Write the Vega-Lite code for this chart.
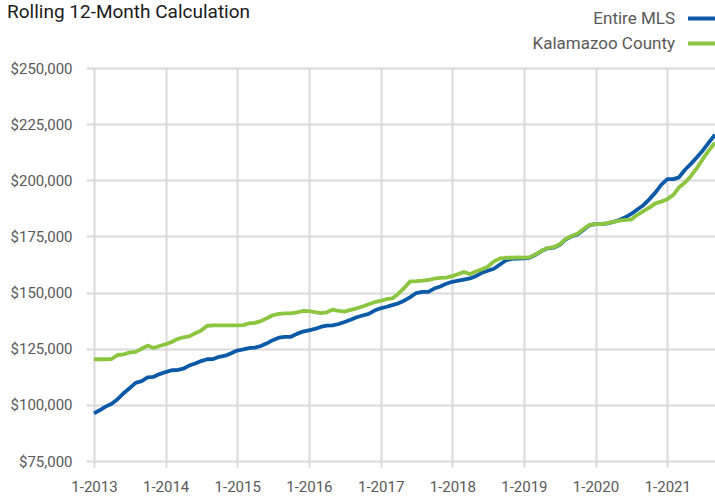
{
  "$schema": "https://vega.github.io/schema/vega-lite/v6.json",
  "width": 621,
  "height": 393,
  "autosize": "none",
  "padding": {"left": 94, "top": 68, "right": 0, "bottom": 35},
  "background": "white",
  "title": {
    "text": "Rolling 12-Month Calculation",
    "anchor": "start",
    "frame": "group",
    "font": "Roboto",
    "fontSize": 19,
    "fontWeight": "normal",
    "color": "#1a1a1a",
    "dx": -87,
    "offset": 0,
    "dy": 20
  },
  "config": {"view": {"stroke": null}},
  "datasets": {
    "rows": [
      {"month": "2013-01-01", "Entire MLS": 96200, "Kalamazoo County": 120300},
      {"month": "2013-02-01", "Entire MLS": 97700, "Kalamazoo County": 120300},
      {"month": "2013-03-01", "Entire MLS": 99200, "Kalamazoo County": 120300},
      {"month": "2013-04-01", "Entire MLS": 100500, "Kalamazoo County": 120400},
      {"month": "2013-05-01", "Entire MLS": 102500, "Kalamazoo County": 122200},
      {"month": "2013-06-01", "Entire MLS": 105200, "Kalamazoo County": 122500},
      {"month": "2013-07-01", "Entire MLS": 107400, "Kalamazoo County": 123300},
      {"month": "2013-08-01", "Entire MLS": 109800, "Kalamazoo County": 123600},
      {"month": "2013-09-01", "Entire MLS": 110600, "Kalamazoo County": 125000},
      {"month": "2013-10-01", "Entire MLS": 112200, "Kalamazoo County": 126400},
      {"month": "2013-11-01", "Entire MLS": 112500, "Kalamazoo County": 125300},
      {"month": "2013-12-01", "Entire MLS": 113700, "Kalamazoo County": 126200},
      {"month": "2014-01-01", "Entire MLS": 114600, "Kalamazoo County": 127000},
      {"month": "2014-02-01", "Entire MLS": 115400, "Kalamazoo County": 128000},
      {"month": "2014-03-01", "Entire MLS": 115500, "Kalamazoo County": 129300},
      {"month": "2014-04-01", "Entire MLS": 116100, "Kalamazoo County": 130100},
      {"month": "2014-05-01", "Entire MLS": 117500, "Kalamazoo County": 130500},
      {"month": "2014-06-01", "Entire MLS": 118400, "Kalamazoo County": 131900},
      {"month": "2014-07-01", "Entire MLS": 119500, "Kalamazoo County": 133100},
      {"month": "2014-08-01", "Entire MLS": 120300, "Kalamazoo County": 135200},
      {"month": "2014-09-01", "Entire MLS": 120400, "Kalamazoo County": 135400},
      {"month": "2014-10-01", "Entire MLS": 121400, "Kalamazoo County": 135400},
      {"month": "2014-11-01", "Entire MLS": 121900, "Kalamazoo County": 135400},
      {"month": "2014-12-01", "Entire MLS": 123000, "Kalamazoo County": 135400},
      {"month": "2015-01-01", "Entire MLS": 124200, "Kalamazoo County": 135400},
      {"month": "2015-02-01", "Entire MLS": 124700, "Kalamazoo County": 135500},
      {"month": "2015-03-01", "Entire MLS": 125300, "Kalamazoo County": 136300},
      {"month": "2015-04-01", "Entire MLS": 125500, "Kalamazoo County": 136500},
      {"month": "2015-05-01", "Entire MLS": 126200, "Kalamazoo County": 137300},
      {"month": "2015-06-01", "Entire MLS": 127400, "Kalamazoo County": 138600},
      {"month": "2015-07-01", "Entire MLS": 128800, "Kalamazoo County": 139900},
      {"month": "2015-08-01", "Entire MLS": 129900, "Kalamazoo County": 140500},
      {"month": "2015-09-01", "Entire MLS": 130300, "Kalamazoo County": 140700},
      {"month": "2015-10-01", "Entire MLS": 130300, "Kalamazoo County": 140700},
      {"month": "2015-11-01", "Entire MLS": 131600, "Kalamazoo County": 141200},
      {"month": "2015-12-01", "Entire MLS": 132600, "Kalamazoo County": 141800},
      {"month": "2016-01-01", "Entire MLS": 133200, "Kalamazoo County": 141700},
      {"month": "2016-02-01", "Entire MLS": 133800, "Kalamazoo County": 141300},
      {"month": "2016-03-01", "Entire MLS": 134700, "Kalamazoo County": 140800},
      {"month": "2016-04-01", "Entire MLS": 135300, "Kalamazoo County": 141200},
      {"month": "2016-05-01", "Entire MLS": 135400, "Kalamazoo County": 142400},
      {"month": "2016-06-01", "Entire MLS": 136000, "Kalamazoo County": 141800},
      {"month": "2016-07-01", "Entire MLS": 136900, "Kalamazoo County": 141500},
      {"month": "2016-08-01", "Entire MLS": 137900, "Kalamazoo County": 142300},
      {"month": "2016-09-01", "Entire MLS": 139000, "Kalamazoo County": 143000},
      {"month": "2016-10-01", "Entire MLS": 139800, "Kalamazoo County": 143800},
      {"month": "2016-11-01", "Entire MLS": 140500, "Kalamazoo County": 144800},
      {"month": "2016-12-01", "Entire MLS": 142000, "Kalamazoo County": 145700},
      {"month": "2017-01-01", "Entire MLS": 143000, "Kalamazoo County": 146300},
      {"month": "2017-02-01", "Entire MLS": 143700, "Kalamazoo County": 147100},
      {"month": "2017-03-01", "Entire MLS": 144400, "Kalamazoo County": 147400},
      {"month": "2017-04-01", "Entire MLS": 145200, "Kalamazoo County": 149500},
      {"month": "2017-05-01", "Entire MLS": 146400, "Kalamazoo County": 152000},
      {"month": "2017-06-01", "Entire MLS": 148000, "Kalamazoo County": 155000},
      {"month": "2017-07-01", "Entire MLS": 149800, "Kalamazoo County": 155100},
      {"month": "2017-08-01", "Entire MLS": 150300, "Kalamazoo County": 155300},
      {"month": "2017-09-01", "Entire MLS": 150300, "Kalamazoo County": 155600},
      {"month": "2017-10-01", "Entire MLS": 151800, "Kalamazoo County": 156200},
      {"month": "2017-11-01", "Entire MLS": 152700, "Kalamazoo County": 156500},
      {"month": "2017-12-01", "Entire MLS": 153900, "Kalamazoo County": 156700},
      {"month": "2018-01-01", "Entire MLS": 154800, "Kalamazoo County": 157300},
      {"month": "2018-02-01", "Entire MLS": 155300, "Kalamazoo County": 158300},
      {"month": "2018-03-01", "Entire MLS": 155800, "Kalamazoo County": 159200},
      {"month": "2018-04-01", "Entire MLS": 156300, "Kalamazoo County": 158200},
      {"month": "2018-05-01", "Entire MLS": 157300, "Kalamazoo County": 159400},
      {"month": "2018-06-01", "Entire MLS": 158800, "Kalamazoo County": 160400},
      {"month": "2018-07-01", "Entire MLS": 159700, "Kalamazoo County": 161500},
      {"month": "2018-08-01", "Entire MLS": 160600, "Kalamazoo County": 163900},
      {"month": "2018-09-01", "Entire MLS": 162500, "Kalamazoo County": 165200},
      {"month": "2018-10-01", "Entire MLS": 164300, "Kalamazoo County": 165500},
      {"month": "2018-11-01", "Entire MLS": 165000, "Kalamazoo County": 165500},
      {"month": "2018-12-01", "Entire MLS": 165100, "Kalamazoo County": 165700},
      {"month": "2019-01-01", "Entire MLS": 165200, "Kalamazoo County": 165600},
      {"month": "2019-02-01", "Entire MLS": 165600, "Kalamazoo County": 165800},
      {"month": "2019-03-01", "Entire MLS": 166800, "Kalamazoo County": 167000},
      {"month": "2019-04-01", "Entire MLS": 168500, "Kalamazoo County": 168600},
      {"month": "2019-05-01", "Entire MLS": 169700, "Kalamazoo County": 169800},
      {"month": "2019-06-01", "Entire MLS": 170000, "Kalamazoo County": 170200},
      {"month": "2019-07-01", "Entire MLS": 171200, "Kalamazoo County": 171400},
      {"month": "2019-08-01", "Entire MLS": 173600, "Kalamazoo County": 173800},
      {"month": "2019-09-01", "Entire MLS": 175000, "Kalamazoo County": 175200},
      {"month": "2019-10-01", "Entire MLS": 175900, "Kalamazoo County": 176200},
      {"month": "2019-11-01", "Entire MLS": 178000, "Kalamazoo County": 178300},
      {"month": "2019-12-01", "Entire MLS": 180000, "Kalamazoo County": 180100},
      {"month": "2020-01-01", "Entire MLS": 180500, "Kalamazoo County": 180500},
      {"month": "2020-02-01", "Entire MLS": 180500, "Kalamazoo County": 180500},
      {"month": "2020-03-01", "Entire MLS": 180800, "Kalamazoo County": 180900},
      {"month": "2020-04-01", "Entire MLS": 181500, "Kalamazoo County": 181500},
      {"month": "2020-05-01", "Entire MLS": 182300, "Kalamazoo County": 182000},
      {"month": "2020-06-01", "Entire MLS": 183500, "Kalamazoo County": 182400},
      {"month": "2020-07-01", "Entire MLS": 185000, "Kalamazoo County": 182500},
      {"month": "2020-08-01", "Entire MLS": 187000, "Kalamazoo County": 184600},
      {"month": "2020-09-01", "Entire MLS": 188900, "Kalamazoo County": 186300},
      {"month": "2020-10-01", "Entire MLS": 191500, "Kalamazoo County": 187800},
      {"month": "2020-11-01", "Entire MLS": 194500, "Kalamazoo County": 189700},
      {"month": "2020-12-01", "Entire MLS": 198000, "Kalamazoo County": 190500},
      {"month": "2021-01-01", "Entire MLS": 200500, "Kalamazoo County": 191600},
      {"month": "2021-02-01", "Entire MLS": 200500, "Kalamazoo County": 193500},
      {"month": "2021-03-01", "Entire MLS": 201300, "Kalamazoo County": 196800},
      {"month": "2021-04-01", "Entire MLS": 204700, "Kalamazoo County": 199000},
      {"month": "2021-05-01", "Entire MLS": 207300, "Kalamazoo County": 201800},
      {"month": "2021-06-01", "Entire MLS": 210300, "Kalamazoo County": 205500},
      {"month": "2021-07-01", "Entire MLS": 213300, "Kalamazoo County": 209500},
      {"month": "2021-08-01", "Entire MLS": 216900, "Kalamazoo County": 213300},
      {"month": "2021-09-01", "Entire MLS": 220300, "Kalamazoo County": 216800}
    ]
  },
  "data": {"name": "rows"},
  "transform": [
    {"fold": ["Entire MLS", "Kalamazoo County"], "as": ["series", "price"]}
  ],
  "mark": {"type": "line", "strokeWidth": 3.8, "strokeJoin": "round", "clip": false},
  "encoding": {
    "x": {
      "field": "month",
      "type": "temporal",
      "scale": {
        "type": "utc",
        "domain": [
          {"year": 2013, "month": 1, "date": 1, "utc": true},
          {"year": 2021, "month": 9, "date": 1, "utc": true}
        ]
      },
      "axis": {
        "title": null,
        "format": "%-m-%Y",
        "values": [
          {"year": 2013, "month": 1, "date": 1, "utc": true},
          {"year": 2014, "month": 1, "date": 1, "utc": true},
          {"year": 2015, "month": 1, "date": 1, "utc": true},
          {"year": 2016, "month": 1, "date": 1, "utc": true},
          {"year": 2017, "month": 1, "date": 1, "utc": true},
          {"year": 2018, "month": 1, "date": 1, "utc": true},
          {"year": 2019, "month": 1, "date": 1, "utc": true},
          {"year": 2020, "month": 1, "date": 1, "utc": true},
          {"year": 2021, "month": 1, "date": 1, "utc": true}
        ],
        "grid": true,
        "gridColor": "#d9d9d9",
        "gridWidth": 2,
        "tickColor": "#d9d9d9",
        "tickWidth": 2,
        "tickSize": 6,
        "domain": false,
        "labelFont": "Roboto",
        "labelFontSize": 15,
        "labelColor": "#595959",
        "labelPadding": 12,
        "labelFlush": false
      }
    },
    "y": {
      "field": "price",
      "type": "quantitative",
      "scale": {"domain": [75000, 250000], "nice": false, "zero": false},
      "axis": {
        "title": null,
        "values": [75000, 100000, 125000, 150000, 175000, 200000, 225000, 250000],
        "format": "$,.0f",
        "grid": true,
        "gridColor": "#d9d9d9",
        "gridWidth": 2,
        "tickColor": "#d9d9d9",
        "tickWidth": 2,
        "tickSize": 8,
        "domain": false,
        "labelFont": "Roboto",
        "labelFontSize": 15,
        "labelColor": "#595959",
        "labelPadding": 14
      }
    },
    "color": {
      "field": "series",
      "type": "nominal",
      "scale": {
        "domain": ["Entire MLS", "Kalamazoo County"],
        "range": ["#0b5aa7", "#8cc540"]
      },
      "legend": {
        "orient": "none",
        "legendX": 592,
        "legendY": -66,
        "title": null,
        "padding": 0,
        "symbolType": "stroke",
        "symbolSize": 841,
        "symbolStrokeWidth": 4,
        "labelAlign": "right",
        "labelOffset": -44,
        "labelFont": "Roboto",
        "labelFontSize": 17,
        "labelColor": "#595959",
        "rowPadding": 0
      }
    }
  }
}
